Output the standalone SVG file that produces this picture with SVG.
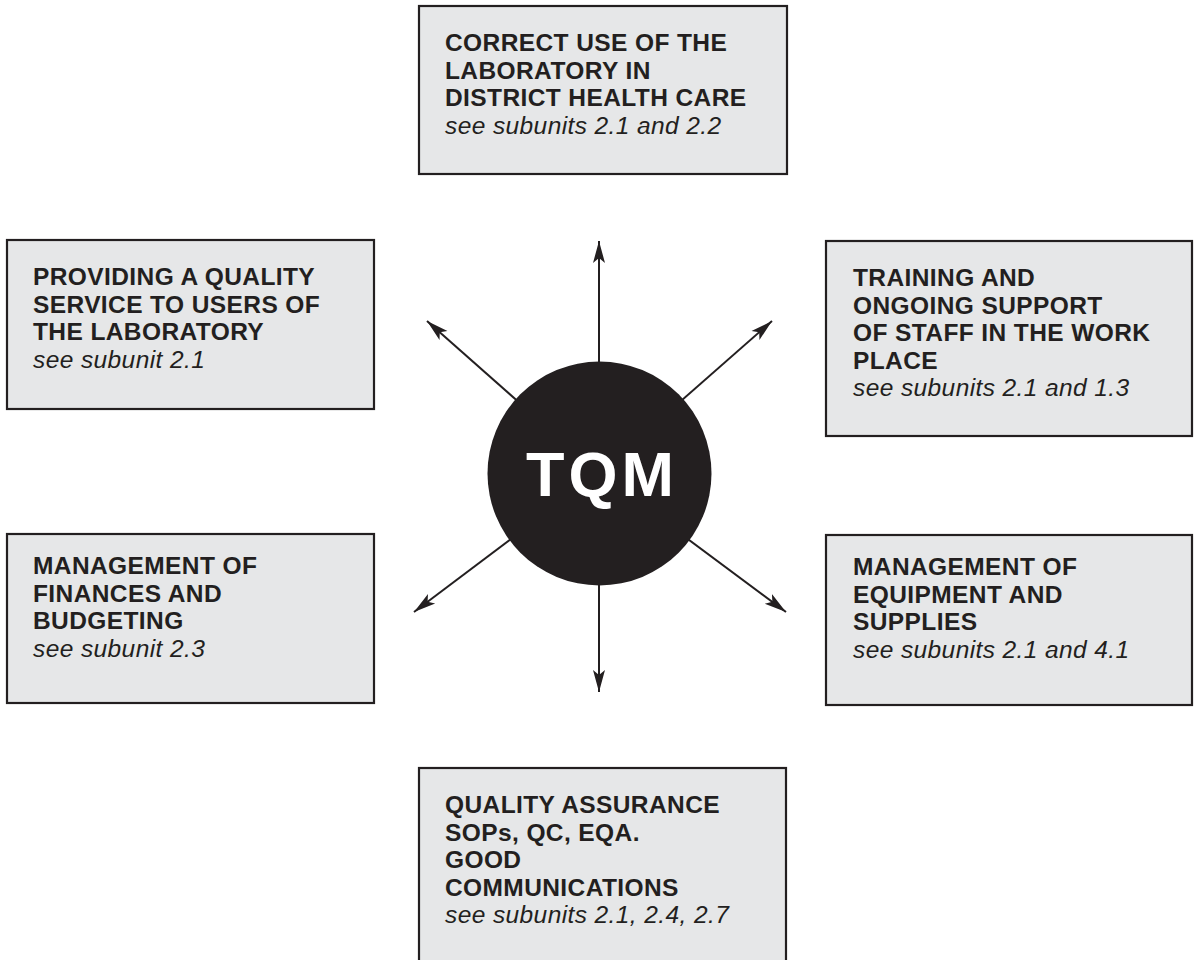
<svg xmlns="http://www.w3.org/2000/svg" width="1200" height="960" viewBox="0 0 1200 960">
<style>
.box{fill:#e6e7e8;stroke:#231f20;stroke-width:2.2}
.b{font-family:"Liberation Sans",Arial,sans-serif;font-weight:700;font-size:24.5px;letter-spacing:0.4px;fill:#231f20}
.i{font-family:"Liberation Sans",Arial,sans-serif;font-style:italic;font-size:24.5px;letter-spacing:0.4px;fill:#231f20}
.conn{stroke:#231f20;stroke-width:2;fill:none;marker-end:url(#ah)}
</style>
<defs>
<marker id="ah" viewBox="0 0 24 14" refX="22" refY="7" markerWidth="24" markerHeight="14" markerUnits="userSpaceOnUse" orient="auto">
<path d="M0,1 L22,7 L0,13 L5,7 Z" fill="#231f20"/>
</marker>
</defs>
<rect width="1200" height="960" fill="#ffffff"/>
<g id="connectors">
<line class="conn" x1="599" y1="473" x2="599" y2="241"/>
<line class="conn" x1="599" y1="473" x2="427" y2="321"/>
<line class="conn" x1="599" y1="473" x2="772" y2="321"/>
<line class="conn" x1="599" y1="473" x2="414" y2="612"/>
<line class="conn" x1="599" y1="473" x2="786" y2="612"/>
<line class="conn" x1="599" y1="473" x2="599" y2="692"/>
</g>
<g id="tqm">
<circle cx="599.5" cy="473.5" r="112" fill="#231f20"/>
<text x="602" y="496" text-anchor="middle" font-family="Liberation Sans, Arial, sans-serif" font-weight="700" font-size="63" letter-spacing="4" fill="#ffffff">TQM</text>
</g>
<g id="node-top">
<rect class="box" x="419" y="6" width="368" height="168"/>
<text class="b" x="445" y="51">CORRECT USE OF THE</text>
<text class="b" x="445" y="78.5">LABORATORY IN</text>
<text class="b" x="445" y="106">DISTRICT HEALTH CARE</text>
<text class="i" x="445" y="133.5">see subunits 2.1 and 2.2</text>
</g>
<g id="node-upper-left">
<rect class="box" x="7" y="240" width="367" height="169"/>
<text class="b" x="33" y="285">PROVIDING A QUALITY</text>
<text class="b" x="33" y="312.5">SERVICE TO USERS OF</text>
<text class="b" x="33" y="340">THE LABORATORY</text>
<text class="i" x="33" y="367.5">see subunit 2.1</text>
</g>
<g id="node-upper-right">
<rect class="box" x="826" y="241" width="366" height="195"/>
<text class="b" x="853" y="286">TRAINING AND</text>
<text class="b" x="853" y="313.5">ONGOING SUPPORT</text>
<text class="b" x="853" y="341">OF STAFF IN THE WORK</text>
<text class="b" x="853" y="368.5">PLACE</text>
<text class="i" x="853" y="396">see subunits 2.1 and 1.3</text>
</g>
<g id="node-lower-left">
<rect class="box" x="7" y="534" width="367" height="169"/>
<text class="b" x="33" y="574">MANAGEMENT OF</text>
<text class="b" x="33" y="601.5">FINANCES AND</text>
<text class="b" x="33" y="629">BUDGETING</text>
<text class="i" x="33" y="656.5">see subunit 2.3</text>
</g>
<g id="node-lower-right">
<rect class="box" x="826" y="535" width="366" height="170"/>
<text class="b" x="853" y="575">MANAGEMENT OF</text>
<text class="b" x="853" y="602.5">EQUIPMENT AND</text>
<text class="b" x="853" y="630">SUPPLIES</text>
<text class="i" x="853" y="657.5">see subunits 2.1 and 4.1</text>
</g>
<g id="node-bottom">
<rect class="box" x="419" y="768" width="367" height="195"/>
<text class="b" x="445" y="813">QUALITY ASSURANCE</text>
<text class="b" x="445" y="840.5">SOPs, QC, EQA.</text>
<text class="b" x="445" y="868">GOOD</text>
<text class="b" x="445" y="895.5">COMMUNICATIONS</text>
<text class="i" x="445" y="923">see subunits 2.1, 2.4, 2.7</text>
</g>
</svg>
